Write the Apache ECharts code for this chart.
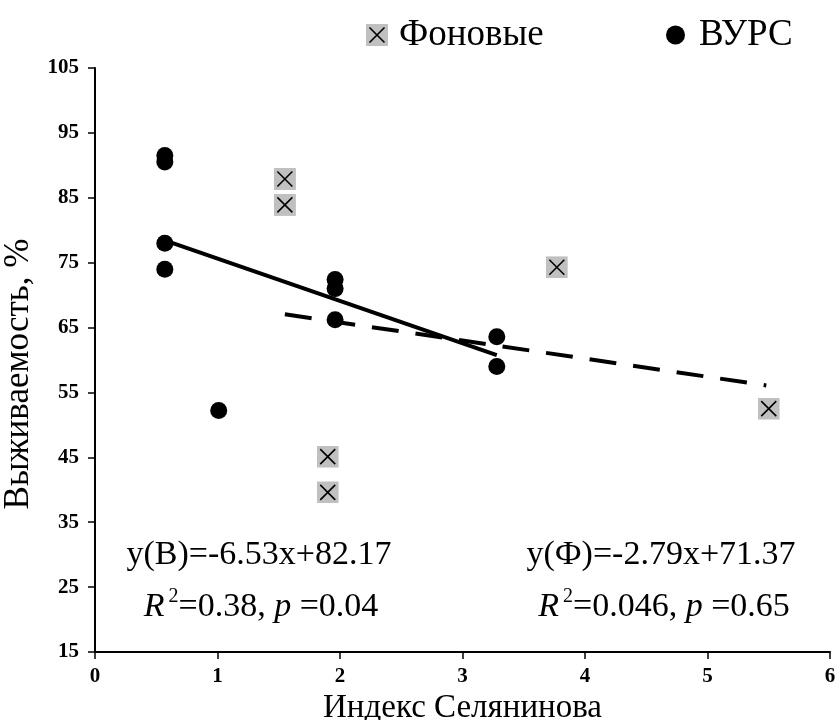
<!DOCTYPE html>
<html>
<head>
<meta charset="utf-8">
<script src="https://cdn.jsdelivr.net/npm/echarts@6/dist/echarts.min.js"></script>
<style>
  html, body { margin: 0; padding: 0; background: #fff; }
  #chart { width: 840px; height: 720px; }
</style>
</head>
<body>
<div id="chart"></div>
<script>
  // ВУРС points
  let vursX = [0.57, 0.57, 0.57, 0.57, 1.01, 1.96, 1.96, 1.96, 3.28, 3.28]
  let vursY = [91.5, 90.5, 78.0, 74.0, 52.2, 72.4, 71.0, 66.2, 63.6, 59.0]
  // Фоновые points
  let fonX = [1.55, 1.55, 1.90, 1.90, 3.77, 5.50]
  let fonY = [87.9, 83.9, 45.1, 39.6, 74.3, 52.5]
  // trend lines: slope, intercept, x from, x to
  let vursTrend = [-6.53, 82.17, 0.57, 3.28]
  let fonTrend = [-2.79, 71.37, 1.55, 5.48]

  let xTicks = [0, 6, 1]
  let yTicks = [15, 105, 10]

  let serif = '"Liberation Serif", "Times New Roman", serif'

  let pairs = (xs, ys) => xs.map((x, i) => [x, ys[i]])
  let trendLine = t => [[t[2], t[0] * t[2] + t[1]], [t[3], t[0] * t[3] + t[1]]]

  // серый квадрат с крестиком
  let boxSvg = '<svg xmlns="http://www.w3.org/2000/svg" width="22" height="22" viewBox="0 0 22 22">' +
    '<rect x="0" y="0" width="22" height="22" fill="#c0c0c0"/>' +
    '<path d="M3.5,3.5L18.5,18.5M18.5,3.5L3.5,18.5" stroke="#000" stroke-width="1.6"/></svg>'
  let boxSymbol = 'image://data:image/svg+xml;charset=utf-8,' + encodeURIComponent(boxSvg)

  let statRich = {
    i: { fontFamily: serif, fontSize: 34, fontStyle: 'italic', lineHeight: 40 },
    s: { fontFamily: serif, fontSize: 20, verticalAlign: 'top', lineHeight: 40, padding: [0, 0, 0, 4] },
    n: { fontFamily: serif, fontSize: 34, lineHeight: 40 }
  }
  let legendText = { fontFamily: serif, fontSize: 37, color: '#000', lineHeight: 40 }

  let chart = echarts.init(document.getElementById('chart'))
  chart.setOption({
    animation: false,
    grid: { left: 95, right: 10, top: 68, bottom: 68, containLabel: false, outerBoundsMode: 'none' },
    legend: [
      {
        top: 10, left: 361,
        itemWidth: 22, itemHeight: 22,
        textStyle: Object.assign({ padding: [0, 0, 0, 6] }, legendText),
        data: [{ name: 'Фоновые', icon: boxSymbol }]
      },
      {
        top: 10, left: 661,
        itemWidth: 19, itemHeight: 19,
        textStyle: Object.assign({ padding: [0, 0, 0, 9] }, legendText),
        data: [{ name: 'ВУРС', icon: 'circle', itemStyle: { color: '#000' } }]
      }
    ],
    xAxis: {
      type: 'value',
      min: xTicks[0], max: xTicks[1], interval: xTicks[2],
      name: 'Индекс Селянинова',
      nameLocation: 'middle',
      nameGap: 27,
      nameTextStyle: { fontFamily: serif, fontSize: 33, color: '#000' },
      axisLine: { lineStyle: { color: '#000', width: 2 } },
      axisTick: { show: true, length: 7, lineStyle: { color: '#000', width: 1.5 } },
      axisLabel: { fontFamily: serif, fontSize: 21, fontWeight: 'bold', color: '#000', margin: 14 },
      splitLine: { show: false }
    },
    yAxis: {
      type: 'value',
      min: yTicks[0], max: yTicks[1], interval: yTicks[2],
      name: 'Выживаемость, %',
      nameLocation: 'middle',
      nameGap: 41,
      nameTextStyle: { fontFamily: serif, fontSize: 35, color: '#000', padding: [0, 28, 0, 0] },
      axisLine: { show: true, lineStyle: { color: '#000', width: 2 } },
      axisTick: { show: true, length: 7, lineStyle: { color: '#000', width: 1.5 } },
      axisLabel: { fontFamily: serif, fontSize: 21, fontWeight: 'bold', color: '#000', margin: 16 },
      splitLine: { show: false }
    },
    series: [
      {
        name: 'Фоновые',
        type: 'scatter',
        symbol: boxSymbol,
        symbolSize: 22,
        itemStyle: { opacity: 1 },
        data: pairs(fonX, fonY),
        z: 3
      },
      {
        name: 'ВУРС',
        type: 'scatter',
        symbol: 'circle',
        symbolSize: 17,
        itemStyle: { color: '#000', opacity: 1 },
        data: pairs(vursX, vursY),
        z: 3
      },
      {
        name: 'trendV',
        type: 'line',
        symbol: 'none',
        lineStyle: { color: '#000', width: 4 },
        data: trendLine(vursTrend),
        z: 4
      },
      {
        name: 'trendF',
        type: 'line',
        symbol: 'none',
        lineStyle: { color: '#000', width: 4, type: [27, 17], cap: 'butt' },
        data: trendLine(fonTrend),
        z: 4
      }
    ],
    graphic: [
      {
        type: 'text', x: 259, y: 555,
        style: { text: 'y(В)=-6.53x+82.17', font: '34px ' + serif, fill: '#000', align: 'center', verticalAlign: 'middle' }
      },
      {
        type: 'text', x: 261, y: 607,
        style: { text: '{i|R}{s|2}{n|=0.38, }{i|p}{n| =0.04}', fill: '#000', rich: statRich, align: 'center', verticalAlign: 'middle' }
      },
      {
        type: 'text', x: 661, y: 555,
        style: { text: 'y(Ф)=-2.79x+71.37', font: '34px ' + serif, fill: '#000', align: 'center', verticalAlign: 'middle' }
      },
      {
        type: 'text', x: 664, y: 607,
        style: { text: '{i|R}{s|2}{n|=0.046, }{i|p}{n| =0.65}', fill: '#000', rich: statRich, align: 'center', verticalAlign: 'middle' }
      }
    ]
  })
</script>
</body>
</html>
